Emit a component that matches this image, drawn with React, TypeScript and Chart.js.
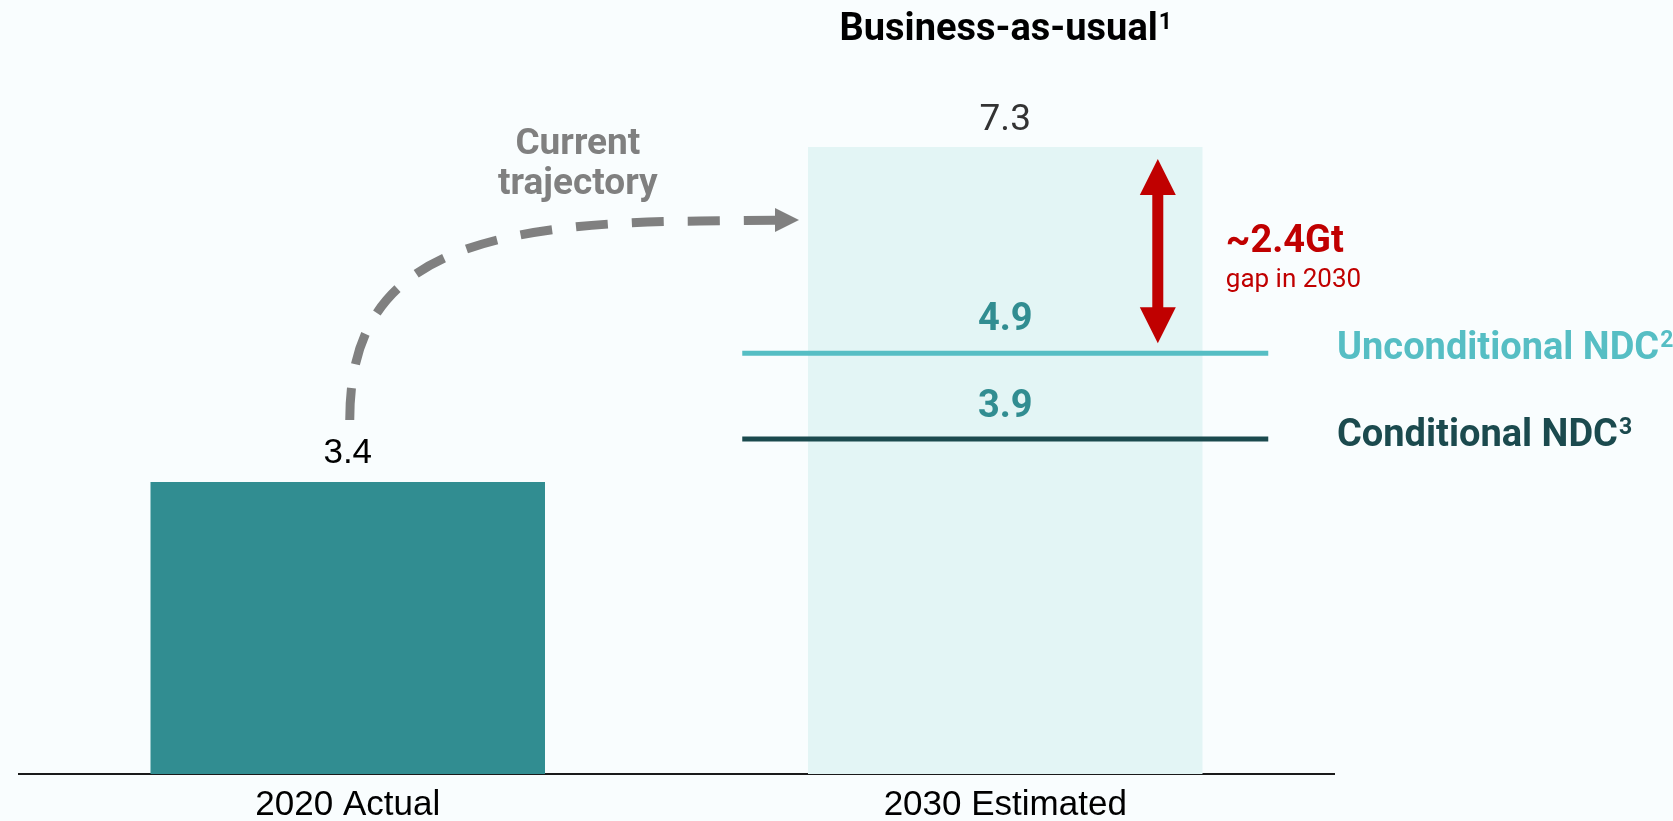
import { useEffect, useRef } from 'react';
import { Chart, registerables } from 'chart.js';

Chart.register(...registerables);

// ---- data ----
const categories = ['2020 Actual', '2030 Estimated'];
const emissions = [3.4, 7.3];
const ndcNames = ['Unconditional NDC', 'Conditional NDC'];
const ndcValues = [4.9, 3.9];
const ndcNotes = ['2', '3'];
const titleText = 'Business-as-usual';
const titleNote = '1';
const trajectoryLabel = ['Current', 'trajectory'];
const gapNote = 'gap in 2030';
const yMax = 8;

// ---- styles ----
const BG = '#F9FDFE';
const barColors = ['#318D91', '#E3F5F5'];
const ndcColors = ['#56BEC4', '#1B4A4E'];
const ndcValueColor = '#318D91';
const RED = '#C00000';
const GREY = '#808080';
const NDC_SPAN = [0.6, 1.4];
const GAP_X = 1.232;
const TRAJ_X = 0.35;

function drawText(ctx: CanvasRenderingContext2D, s: string, x: number, y: number, font: string, color: string, align: CanvasTextAlign = 'center') {
  ctx.save();
  ctx.font = font;
  ctx.fillStyle = color;
  ctx.textAlign = align;
  ctx.textBaseline = 'middle';
  ctx.fillText(s, x, y);
  ctx.restore();
}

function drawSupText(ctx: CanvasRenderingContext2D, main: string, sup: string, x: number, y: number, font: string, supFont: string, color: string, align: 'left' | 'center', supDy: number) {
  ctx.save();
  ctx.font = font;
  const w1 = ctx.measureText(main).width;
  ctx.font = supFont;
  const w2 = ctx.measureText(sup).width;
  const left = align === 'center' ? x - (w1 + w2) / 2 : x;
  ctx.fillStyle = color;
  ctx.textAlign = 'left';
  ctx.textBaseline = 'middle';
  ctx.font = font;
  ctx.fillText(main, left, y);
  ctx.font = supFont;
  ctx.fillText(sup, left + w1 + 1, y + supDy);
  ctx.restore();
}

const annotate = {
  id: 'annotate',
  beforeDraw(chart: any) {
    const ctx = chart.ctx as CanvasRenderingContext2D;
    ctx.save();
    ctx.fillStyle = BG;
    ctx.fillRect(0, 0, chart.width, chart.height);
    ctx.restore();
  },
  afterDraw(chart: any) {
    const ctx = chart.ctx as CanvasRenderingContext2D;
    const y = chart.scales.y;
    const xl = chart.scales.xl;
    const area = chart.chartArea;
    const bars = chart.getDatasetMeta(0).data;
    const b0 = bars[0];
    const b1 = bars[1];

    // title
    drawSupText(ctx, titleText, titleNote, b1.x, area.top - 57, 'bold 38px Roboto', 'bold 23px Roboto', '#000', 'center', -7);

    // value labels
    drawText(ctx, emissions[0].toFixed(1), b0.x, b0.y - 29, '35px "Liberation Sans"', '#000');
    drawText(ctx, emissions[1].toFixed(1), b1.x, b1.y - 26, '37px Roboto', '#333');

    // NDC labels
    ndcValues.forEach((v, i) => {
      const ly = y.getPixelForValue(v);
      drawText(ctx, v.toFixed(1), b1.x, ly - 33 + i, 'bold 38px Roboto', ndcValueColor);
      drawSupText(ctx, ndcNames[i], ndcNotes[i], area.right + 3, ly - 4 + i, 'bold 38px Roboto', 'bold 23px Roboto', ndcColors[i], 'left', -8);
    });

    // red gap arrow
    const ax = xl.getPixelForValue(GAP_X);
    const top = b1.y + 12;
    const bottom = y.getPixelForValue(ndcValues[0]) - 10;
    const head = 36;
    const hw = 18;
    ctx.save();
    ctx.fillStyle = RED;
    ctx.fillRect(ax - 5.5, top + head - 2, 11, bottom - top - 2 * head + 4);
    ctx.beginPath();
    ctx.moveTo(ax, top);
    ctx.lineTo(ax + hw, top + head);
    ctx.lineTo(ax - hw, top + head);
    ctx.closePath();
    ctx.fill();
    ctx.beginPath();
    ctx.moveTo(ax, bottom);
    ctx.lineTo(ax + hw, bottom - head);
    ctx.lineTo(ax - hw, bottom - head);
    ctx.closePath();
    ctx.fill();
    ctx.restore();

    const mid = (b1.y + y.getPixelForValue(ndcValues[0])) / 2;
    const gap = emissions[1] - ndcValues[0];
    drawText(ctx, '~' + gap.toFixed(1) + 'Gt', ax + 68, mid - 8, 'bold 38px Roboto', RED, 'left');
    drawText(ctx, gapNote, ax + 68, mid + 30, '26px Roboto', RED, 'left');

    // dashed trajectory arrow
    const sx = b0.x + 2;
    const sy = b0.y - 62;
    const ex = b1.x - b1.width / 2 - 9;
    const ey = b1.y + 73;
    ctx.save();
    ctx.strokeStyle = GREY;
    ctx.fillStyle = GREY;
    ctx.lineWidth = 9;
    ctx.setLineDash([32, 24]);
    ctx.beginPath();
    ctx.moveTo(sx, sy);
    ctx.bezierCurveTo(sx, sy - 150, sx + 100, ey + 2, sx + 350, ey + 1);
    ctx.lineTo(ex - 22, ey);
    ctx.stroke();
    ctx.setLineDash([]);
    ctx.beginPath();
    ctx.moveTo(ex - 24, ey - 12);
    ctx.lineTo(ex, ey);
    ctx.lineTo(ex - 24, ey + 12);
    ctx.closePath();
    ctx.fill();
    ctx.restore();

    const tx = xl.getPixelForValue(TRAJ_X);
    drawText(ctx, trajectoryLabel[0], tx, ey - 75, 'bold 37px Roboto', GREY);
    drawText(ctx, trajectoryLabel[1], tx, ey - 35, 'bold 37px Roboto', GREY);
  },
};

export default function App() {
  const ref = useRef<HTMLCanvasElement | null>(null);

  useEffect(() => {
    document.body.style.margin = '0';
    document.body.style.background = BG;
    const canvas = ref.current;
    if (!canvas) return;
    const chart = new Chart(canvas, {
      type: 'bar',
      data: {
        labels: categories,
        datasets: [
          {
            type: 'bar',
            label: 'Emissions',
            data: emissions,
            backgroundColor: barColors,
            barPercentage: 0.6,
            categoryPercentage: 1,
            grouped: false,
            order: 2,
          } as any,
          ...(ndcValues.map((v, i) => ({
            type: 'line',
            label: ndcNames[i],
            data: [
              { x: NDC_SPAN[0], y: v },
              { x: NDC_SPAN[1], y: v },
            ],
            xAxisID: 'xl',
            borderColor: ndcColors[i],
            borderWidth: 5,
            pointRadius: 0,
            fill: false,
            order: 1,
          })) as any[]),
        ],
      },
      options: {
        responsive: false,
        animation: false,
        layout: { padding: { top: 87, left: 19, right: 339, bottom: 0 } },
        plugins: {
          legend: { display: false },
          tooltip: { enabled: false },
          title: { display: false },
        },
        scales: {
          x: {
            type: 'category',
            z: 1,
            grid: { display: false, drawTicks: false },
            border: { display: true, color: '#1a1a1a', width: 2 },
            ticks: {
              font: { family: '"Liberation Sans"', size: 35 },
              color: '#000',
              padding: 10,
            },
            afterFit: (scale: any) => {
              scale.height = 47;
            },
          },
          xl: {
            type: 'linear',
            min: -0.5,
            max: 1.5,
            offset: false,
            display: false,
          },
          y: {
            min: 0,
            max: yMax,
            display: false,
          },
        },
      },
      plugins: [annotate],
    } as any);
    return () => chart.destroy();
  }, []);

  return (
    <div style={{ position: 'fixed', left: 0, top: 0, width: 1673, height: 821 }}>
      <canvas ref={ref} width={1673} height={821} style={{ display: 'block' }} />
    </div>
  );
}
